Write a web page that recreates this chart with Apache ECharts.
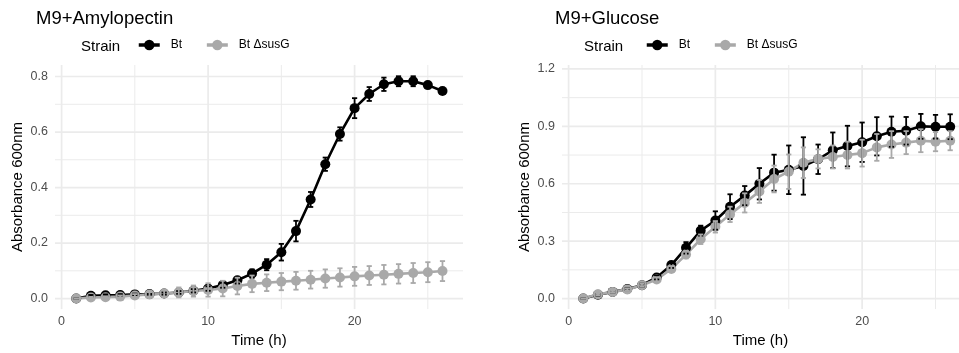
<!DOCTYPE html>
<html><head><meta charset="utf-8">
<script src="https://cdn.jsdelivr.net/npm/echarts@6/dist/echarts.min.js"></script>
<style>html,body{margin:0;padding:0;background:#fff}#c{width:959px;height:353px}</style>
</head><body><div id="c"></div>
<script>
const hours = [1,2,3,4,5,6,7,8,9,10,11,12,13,14,15,16,17,18,19,20,21,22,23,24,25,26];
const amyBt    = [0,0.010,0.012,0.013,0.015,0.016,0.018,0.022,0.028,0.036,0.049,0.066,0.090,0.122,0.167,0.243,0.357,0.484,0.593,0.686,0.737,0.772,0.783,0.783,0.769,0.748];
const amyBtErr = [0,0.003,0.003,0.003,0.003,0.003,0.004,0.005,0.006,0.008,0.010,0.012,0.015,0.020,0.030,0.037,0.027,0.024,0.024,0.036,0.025,0.024,0.018,0.018,0.010,0.005];
const amyDel    = [0,0.004,0.005,0.007,0.011,0.015,0.018,0.022,0.027,0.031,0.036,0.045,0.053,0.057,0.061,0.064,0.068,0.072,0.076,0.080,0.083,0.086,0.089,0.092,0.095,0.099];
const amyDelErr = [0,0.002,0.003,0.004,0.005,0.008,0.012,0.018,0.020,0.024,0.028,0.030,0.030,0.030,0.031,0.032,0.032,0.033,0.033,0.034,0.034,0.035,0.035,0.036,0.036,0.036];
const gluBt    = [0,0.020,0.035,0.050,0.070,0.110,0.175,0.265,0.355,0.408,0.480,0.538,0.600,0.658,0.673,0.693,0.728,0.775,0.797,0.817,0.848,0.872,0.877,0.900,0.898,0.898];
const gluBtErr = [0,0.004,0.005,0.006,0.008,0.010,0.015,0.030,0.026,0.048,0.065,0.050,0.082,0.094,0.127,0.150,0.077,0.093,0.106,0.103,0.100,0.079,0.072,0.065,0.062,0.065];
const gluDel    = [0,0.022,0.035,0.048,0.070,0.100,0.155,0.230,0.310,0.375,0.440,0.500,0.560,0.625,0.663,0.710,0.730,0.740,0.750,0.760,0.790,0.805,0.815,0.825,0.820,0.825];
const gluDelErr = [0,0.004,0.005,0.006,0.008,0.012,0.015,0.020,0.025,0.030,0.040,0.050,0.060,0.070,0.090,0.080,0.050,0.060,0.070,0.070,0.070,0.070,0.060,0.060,0.050,0.050];

const strains = ['Bt', 'Bt ΔsusG'];
const panelTitles = ['M9+Amylopectin', 'M9+Glucose'];
const xTicks = [0, 10, 20];
const xMinor = [5, 15, 25];
const amyYTicks = [0, 0.2, 0.4, 0.6, 0.8];
const amyYMinor = [0.1, 0.3, 0.5, 0.7];
const gluYTicks = [0, 0.3, 0.6, 0.9, 1.2];
const gluYMinor = [0.15, 0.45, 0.75, 1.05];

const BLACK = '#000000', GREY = '#a9a9a9', GRIDC = '#ebebeb';
const FONT = '"Liberation Sans", Arial, sans-serif';

function pairs(ys) { return hours.map((h, i) => [h, ys[i]]); }
function errData(ys, es) { return hours.map((h, i) => [h, ys[i] - es[i], ys[i] + es[i]]); }

function gridSeries(idx, vals, vertical, width) {
  return {
    type: 'custom', xAxisIndex: idx, yAxisIndex: idx, silent: true, z: 0,
    data: vals.map(v => vertical ? [v, 0] : [0, v]),
    encode: { x: 0, y: 1 },
    renderItem: function (params, api) {
      const cs = params.coordSys;
      const p = api.coord([api.value(0), api.value(1)]);
      const shape = vertical
        ? { x1: p[0], y1: cs.y, x2: p[0], y2: cs.y + cs.height }
        : { x1: cs.x, y1: p[1], x2: cs.x + cs.width, y2: p[1] };
      return { type: 'line', shape: shape, style: { stroke: GRIDC, lineWidth: width } };
    }
  };
}

function lineSeries(idx, name, ys, color) {
  return {
    type: 'line', name: name, xAxisIndex: idx, yAxisIndex: idx, z: 2,
    data: pairs(ys), symbol: 'circle', symbolSize: 10, showSymbol: true,
    lineStyle: { color: color, width: 2.6 }, itemStyle: { color: color },
    emphasis: { disabled: true }
  };
}

function errSeries(idx, name, ys, es, color) {
  return {
    type: 'custom', name: name, xAxisIndex: idx, yAxisIndex: idx, z: 3, silent: true,
    data: errData(ys, es), encode: { x: 0, y: [1, 2] },
    renderItem: function (params, api) {
      const x = api.value(0);
      const a = api.coord([x, api.value(2)]);
      const b = api.coord([x, api.value(1)]);
      const w = 2.6;
      const st = { stroke: color, lineWidth: 1.8 };
      return { type: 'group', children: [
        { type: 'line', shape: { x1: a[0], y1: a[1], x2: b[0], y2: b[1] }, style: st },
        { type: 'line', shape: { x1: a[0] - w, y1: a[1], x2: a[0] + w, y2: a[1] }, style: st },
        { type: 'line', shape: { x1: b[0] - w, y1: b[1], x2: b[0] + w, y2: b[1] }, style: st }
      ] };
    }
  };
}

function xAxis(idx, min, max) {
  return {
    type: 'value', gridIndex: idx, min: min, max: max,
    axisLine: { show: false }, axisTick: { show: false }, splitLine: { show: false },
    axisLabel: { customValues: xTicks, color: '#4d4d4d', fontSize: 12.5, fontFamily: FONT, margin: 6 },
    name: 'Time (h)', nameLocation: 'middle', nameGap: 21,
    nameTextStyle: { color: '#000', fontSize: 15, fontFamily: FONT }
  };
}
function yAxis(idx, min, max, ticks) {
  return {
    type: 'value', gridIndex: idx, min: min, max: max,
    axisLine: { show: false }, axisTick: { show: false }, splitLine: { show: false },
    axisLabel: { customValues: ticks, color: '#4d4d4d', fontSize: 12.5, fontFamily: FONT, margin: 7,
      formatter: v => v.toFixed(1) },
    name: 'Absorbance 600nm', nameLocation: 'middle', nameGap: 30,
    nameTextStyle: { color: '#000', fontSize: 15, fontFamily: FONT }
  };
}

function legendAt(left) {
  return {
    left: left, top: 39, padding: 0, itemWidth: 21, itemHeight: 13, itemGap: 23,
    selectedMode: false, data: strains,
    lineStyle: { width: 3.5 },
    textStyle: { fontSize: 12, fontFamily: FONT, color: '#000', padding: [0, 0, 0, 6] }
  };
}

const chart = echarts.init(document.getElementById('c'), null, { renderer: 'canvas' });
chart.setOption({
  animation: false,
  backgroundColor: '#ffffff',
  title: [
    { text: panelTitles[0], left: 36, top: 9, padding: 0, textStyle: { fontSize: 18.5, fontWeight: 'normal', color: '#000', fontFamily: FONT } },
    { text: panelTitles[1], left: 555, top: 9, padding: 0, textStyle: { fontSize: 18.5, fontWeight: 'normal', color: '#000', fontFamily: FONT } },
    { text: 'Strain', left: 81, top: 39, padding: 0, textStyle: { fontSize: 15, fontWeight: 'normal', color: '#000', fontFamily: FONT } },
    { text: 'Strain', left: 584, top: 39, padding: 0, textStyle: { fontSize: 15, fontWeight: 'normal', color: '#000', fontFamily: FONT } }
  ],
  legend: [legendAt(137), legendAt(645)],
  grid: [
    { left: 55, top: 65, width: 408, height: 248 },
    { left: 562, top: 65, width: 397, height: 248 }
  ],
  xAxis: [xAxis(0, -0.45, 27.4), xAxis(1, -0.45, 26.6)],
  yAxis: [yAxis(0, -0.038, 0.8415, amyYTicks), yAxis(1, -0.055, 1.2206, gluYTicks)],
  series: [
    gridSeries(0, xMinor, true, 1), gridSeries(0, amyYMinor, false, 1),
    gridSeries(0, xTicks, true, 1.7), gridSeries(0, amyYTicks, false, 1.7),
    gridSeries(1, xMinor, true, 1), gridSeries(1, gluYMinor, false, 1),
    gridSeries(1, xTicks, true, 1.7), gridSeries(1, gluYTicks, false, 1.7),
    lineSeries(0, strains[0], amyBt, BLACK),
    lineSeries(0, strains[1], amyDel, GREY),
    lineSeries(1, strains[0], gluBt, BLACK),
    lineSeries(1, strains[1], gluDel, GREY),
    errSeries(0, strains[0], amyBt, amyBtErr, BLACK),
    errSeries(0, strains[1], amyDel, amyDelErr, GREY),
    errSeries(1, strains[0], gluBt, gluBtErr, BLACK),
    errSeries(1, strains[1], gluDel, gluDelErr, GREY)
  ]
});
</script></body></html>
